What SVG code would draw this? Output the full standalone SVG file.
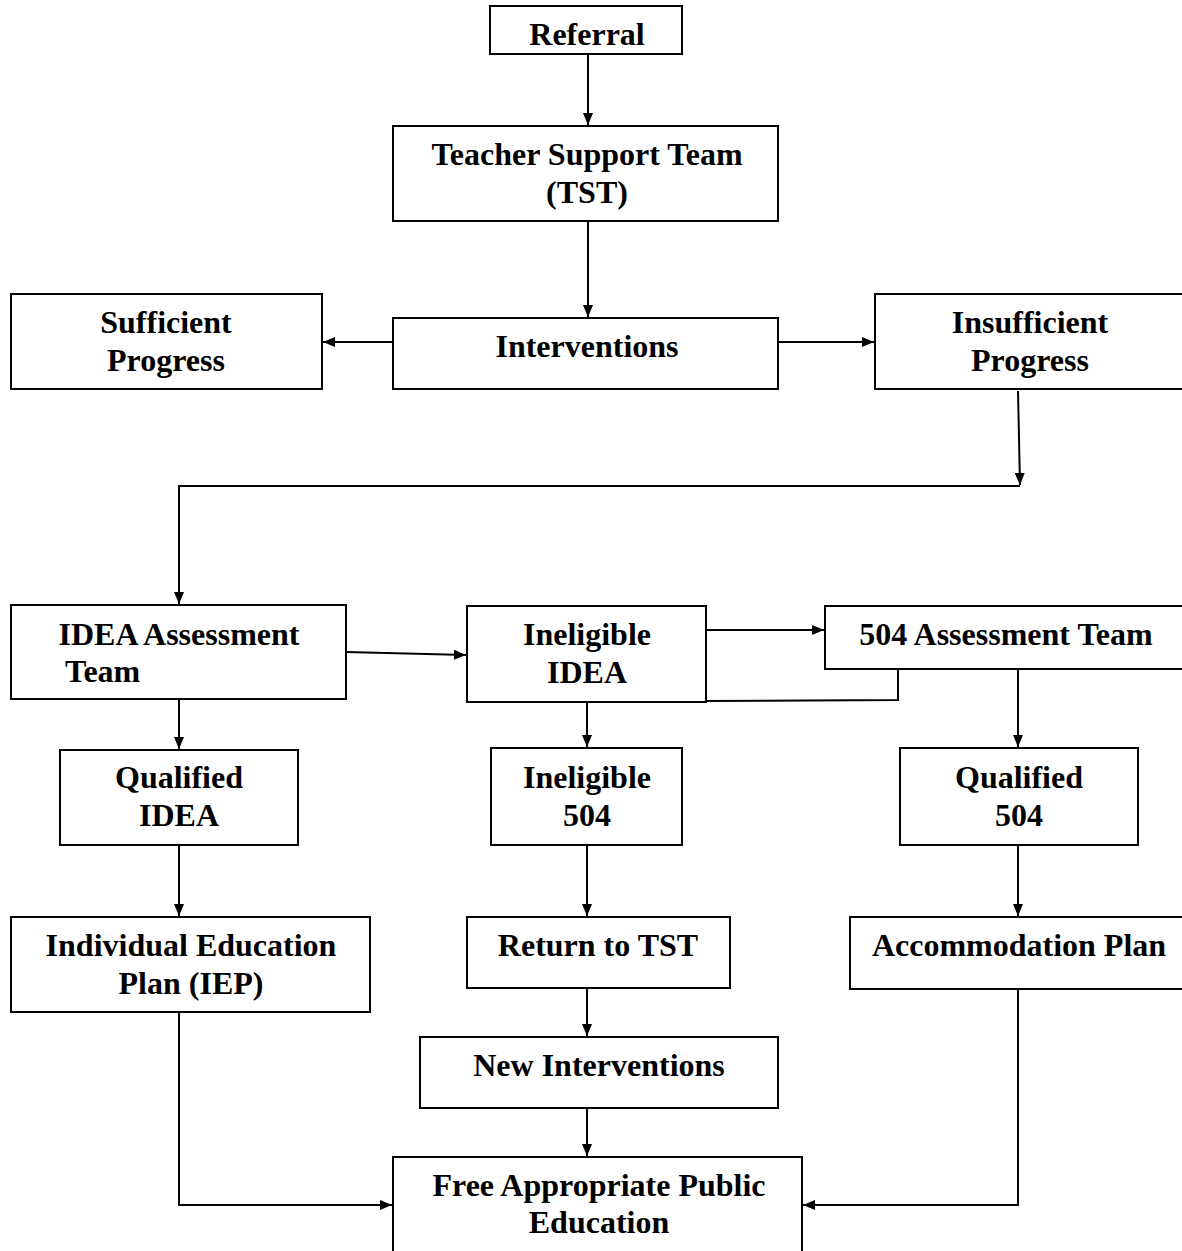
<svg xmlns="http://www.w3.org/2000/svg" width="1182" height="1251" viewBox="0 0 1182 1251">
<style>
.n rect{fill:#fff;stroke:#000;stroke-width:2}
text{font-family:"Liberation Serif","Times New Roman",serif;font-weight:bold;font-size:32px;fill:#000;text-anchor:middle}
.c line,.c polyline{fill:none;stroke:#000;stroke-width:2}
</style>
<defs>
<marker id="ah" viewBox="0 0 12 10" refX="12" refY="5" markerWidth="12" markerHeight="10" markerUnits="userSpaceOnUse" orient="auto"><path d="M0,0L12,5L0,10z" fill="#000"/></marker>
</defs>
<rect width="1182" height="1251" fill="#fff"/>
<g class="c">
<line x1="588" y1="54" x2="588" y2="125" marker-end="url(#ah)"/>
<line x1="588" y1="221" x2="588" y2="317" marker-end="url(#ah)"/>
<line x1="393" y1="342" x2="323" y2="342" marker-end="url(#ah)"/>
<line x1="778" y1="342" x2="874" y2="342" marker-end="url(#ah)"/>
<line x1="1018" y1="391" x2="1020" y2="485" marker-end="url(#ah)"/>
<polyline points="1020,486 179,486 179,604" marker-end="url(#ah)"/>
<line x1="346" y1="652" x2="466" y2="655" marker-end="url(#ah)"/>
<line x1="706" y1="630" x2="824" y2="630" marker-end="url(#ah)"/>
<polyline points="898,652 898,700 706,701"/>
<line x1="1018" y1="652" x2="1018" y2="747" marker-end="url(#ah)"/>
<line x1="587" y1="702" x2="587" y2="747" marker-end="url(#ah)"/>
<line x1="179" y1="699" x2="179" y2="749" marker-end="url(#ah)"/>
<line x1="179" y1="845" x2="179" y2="916" marker-end="url(#ah)"/>
<line x1="587" y1="845" x2="587" y2="916" marker-end="url(#ah)"/>
<line x1="1018" y1="845" x2="1018" y2="916" marker-end="url(#ah)"/>
<line x1="587" y1="988" x2="587" y2="1036" marker-end="url(#ah)"/>
<line x1="587" y1="1108" x2="587" y2="1156" marker-end="url(#ah)"/>
<polyline points="179,1012 179,1205 392,1205" marker-end="url(#ah)"/>
<polyline points="1018,989 1018,1205 803,1205" marker-end="url(#ah)"/>
</g>
<g id="referral" class="n"><rect x="490" y="6" width="192" height="48"/><text x="587" y="45">Referral</text></g>
<g id="tst" class="n"><rect x="393" y="126" width="385" height="95"/><text x="587" y="165">Teacher Support Team</text><text x="587" y="203">(TST)</text></g>
<g id="interventions" class="n"><rect x="393" y="318" width="385" height="71"/><text x="587" y="357">Interventions</text></g>
<g id="sufficient" class="n"><rect x="11" y="294" width="311" height="95"/><text x="166" y="333">Sufficient</text><text x="166" y="371">Progress</text></g>
<g id="insufficient" class="n"><rect x="875" y="294" width="310" height="95"/><text x="1030" y="333">Insufficient</text><text x="1030" y="371">Progress</text></g>
<g id="idea-team" class="n"><rect x="11" y="605" width="335" height="94"/><text x="179" y="645">IDEA Assessment</text><text x="65" y="682" style="text-anchor:start">Team</text></g>
<g id="ineligible-idea" class="n"><rect x="467" y="606" width="239" height="96"/><text x="587" y="645">Ineligible</text><text x="587" y="683">IDEA</text></g>
<g id="team504" class="n"><rect x="825" y="606" width="360" height="63"/><text x="1006" y="645">504 Assessment Team</text></g>
<g id="qualified-idea" class="n"><rect x="60" y="750" width="238" height="95"/><text x="179" y="788">Qualified</text><text x="179" y="826">IDEA</text></g>
<g id="ineligible504" class="n"><rect x="491" y="748" width="191" height="97"/><text x="587" y="788">Ineligible</text><text x="587" y="826">504</text></g>
<g id="qualified504" class="n"><rect x="900" y="748" width="238" height="97"/><text x="1019" y="788">Qualified</text><text x="1019" y="826">504</text></g>
<g id="iep" class="n"><rect x="11" y="917" width="359" height="95"/><text x="191" y="956">Individual Education</text><text x="191" y="994">Plan (IEP)</text></g>
<g id="return" class="n"><rect x="467" y="917" width="263" height="71"/><text x="598" y="956">Return to TST</text></g>
<g id="accommodation" class="n"><rect x="850" y="917" width="335" height="72"/><text x="1019" y="956">Accommodation Plan</text></g>
<g id="new-interventions" class="n"><rect x="420" y="1037" width="358" height="71"/><text x="599" y="1076">New Interventions</text></g>
<g id="fape" class="n"><rect x="393" y="1157" width="409" height="100"/><text x="599" y="1196">Free Appropriate Public</text><text x="599" y="1233">Education</text></g>
</svg>
